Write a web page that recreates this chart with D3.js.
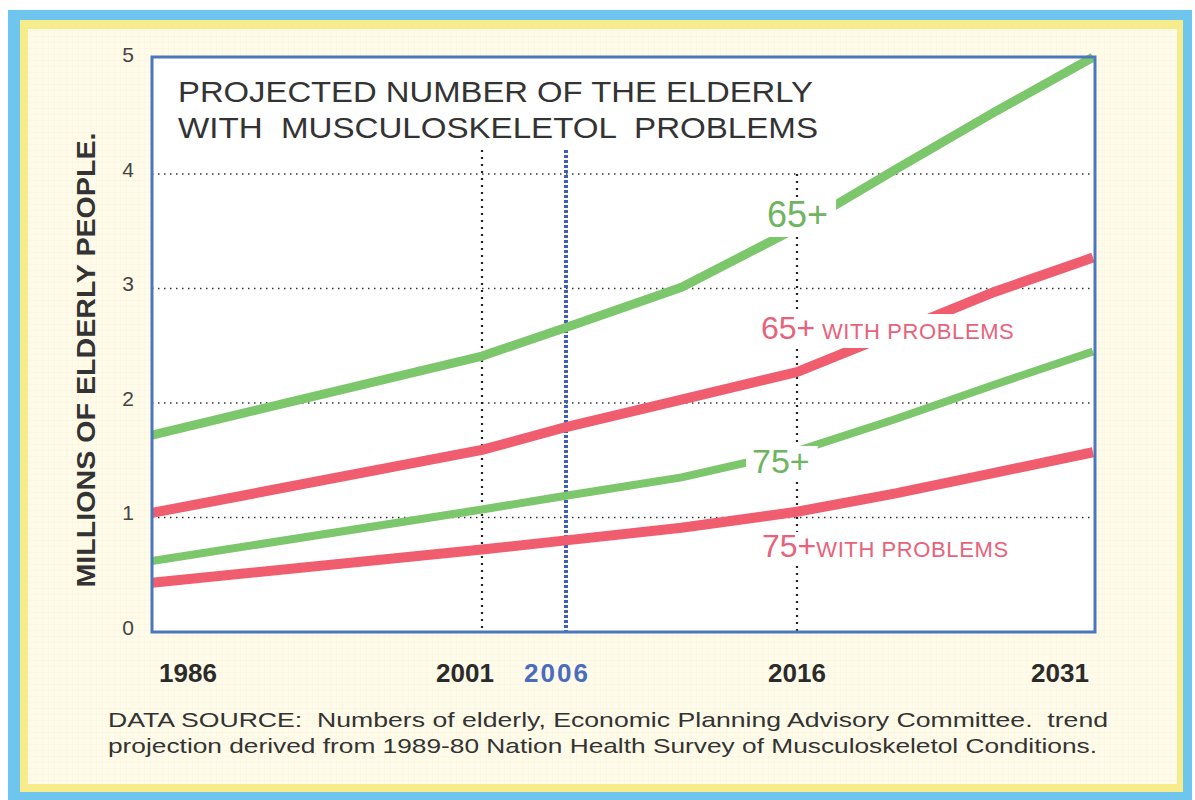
<!DOCTYPE html>
<html>
<head>
<meta charset="utf-8">
<script src="https://cdnjs.cloudflare.com/ajax/libs/d3/7.8.5/d3.min.js"></script>
<style>
  body { margin: 0; background: #fff; }
  text { font-family: "Liberation Sans", Arial, sans-serif; }
</style>
</head>
<body>
<svg id="svg" width="1195" height="800"></svg>
<script>
// data (millions)
var years = [1986, 2001, 2006, 2011, 2016, 2021, 2026, 2031];
var aged65 = [1.72, 2.41, 2.66, 3.01, 3.53, 4.04, 4.54, 5.02];
var aged65Problems = [1.04, 1.59, 1.79, 2.03, 2.27, 2.62, 2.97, 3.27];
var aged75 = [0.62, 1.07, 1.19, 1.35, 1.58, 1.86, 2.16, 2.45];
var aged75Problems = [0.43, 0.72, 0.80, 0.91, 1.05, 1.21, 1.39, 1.57];
var yTicks = [0, 1, 2, 3, 4, 5];
var yearLabels = [1986, 2001, 2006, 2016, 2031];

var svg = d3.select("svg");
var plotLeft = 152, plotRight = 1095, plotTop = 57, plotBottom = 632;

// hand drawn chart: year spacing is not even, so the scale is piecewise
var x = d3.scaleLinear()
    .domain([1986, 2001, 2006, 2016, 2031])
    .range([152, 482, 566, 797, 1093]);
var y = d3.scaleLinear().domain([0, 5]).range([plotBottom, 59.5]);

// frame bands
svg.append("rect").attr("x", 8).attr("y", 10).attr("width", 1184).attr("height", 790).attr("fill", "#6ec5ee");
svg.append("rect").attr("x", 20).attr("y", 20).attr("width", 1163).attr("height", 772).attr("fill", "#f6ec8c");
svg.append("rect").attr("x", 28).attr("y", 29).attr("width", 1149).attr("height", 755).attr("fill", "#fffbea");

var defs = svg.append("defs");
var pat = defs.append("pattern").attr("id", "paper").attr("width", 6).attr("height", 6)
    .attr("patternUnits", "userSpaceOnUse");
pat.append("path").attr("d", "M6 0 L0 0 0 6").attr("fill", "none")
    .attr("stroke", "#efe6c0").attr("stroke-width", 0.6);
svg.append("rect").attr("x", 28).attr("y", 29).attr("width", 1149).attr("height", 755).attr("fill", "url(#paper)").attr("opacity", 0.6);

// plot area
svg.append("rect").attr("x", plotLeft).attr("y", plotTop)
    .attr("width", plotRight - plotLeft).attr("height", plotBottom - plotTop)
    .attr("fill", "#fff");

// gridlines
svg.selectAll(".hgrid").data([1, 2, 3, 4]).enter().append("line")
    .attr("x1", plotLeft).attr("x2", plotRight)
    .attr("y1", function (d) { return y(d); }).attr("y2", function (d) { return y(d); })
    .attr("stroke", "#333").attr("stroke-width", 1.6).attr("stroke-dasharray", "1.5,4.5");

svg.append("line").attr("x1", x(2001)).attr("x2", x(2001)).attr("y1", 150).attr("y2", plotBottom)
    .attr("stroke", "#222").attr("stroke-width", 2.2).attr("stroke-dasharray", "2,5");
svg.append("line").attr("x1", x(2016)).attr("x2", x(2016)).attr("y1", y(4)).attr("y2", plotBottom)
    .attr("stroke", "#222").attr("stroke-width", 2.2).attr("stroke-dasharray", "2,5");
svg.append("line").attr("x1", x(2006)).attr("x2", x(2006)).attr("y1", 150).attr("y2", plotBottom)
    .attr("stroke", "#3f5fb4").attr("stroke-width", 4).attr("stroke-dasharray", "3,2");

// series
var line = d3.line()
    .x(function (d, i) { return x(years[i]); })
    .y(function (d) { return y(d); });

var series = [
    { values: aged65, color: "#7cc66c", width: 9 },
    { values: aged65Problems, color: "#ef5d6f", width: 10 },
    { values: aged75, color: "#7cc66c", width: 8 },
    { values: aged75Problems, color: "#ef5d6f", width: 10 }
];
svg.selectAll(".series").data(series).enter().append("path")
    .attr("d", function (d) { return line(d.values); })
    .attr("fill", "none")
    .attr("stroke", function (d) { return d.color; })
    .attr("stroke-width", function (d) { return d.width; });

// series labels, with white boxes that break the lines
function label(parts, lx, ly, color) {
    var g = svg.append("g");
    var bg = g.append("rect").attr("fill", "#fff");
    var t = g.append("text").attr("x", lx).attr("y", ly).attr("fill", color);
    parts.forEach(function (p) {
        t.append("tspan").attr("font-size", p.size).attr("letter-spacing", p.spacing || 0).text(p.text);
    });
    var b = t.node().getBBox();
    bg.attr("x", b.x - 6).attr("y", b.y + 4).attr("width", b.width + 14).attr("height", b.height - 2);
}
label([{ text: "65+", size: 36 }], 767, 227, "#6fb461");
label([{ text: "65+", size: 32 }, { text: " WITH PROBLEMS", size: 22, spacing: 0.6 }], 761, 339, "#e8627a");
label([{ text: "75+", size: 34 }], 752, 473, "#6fb461");
label([{ text: "75+", size: 32 }, { text: "WITH PROBLEMS", size: 22, spacing: 0.6 }], 762, 557, "#e8627a");

// plot frame
svg.append("rect").attr("x", plotLeft).attr("y", plotTop)
    .attr("width", plotRight - plotLeft).attr("height", plotBottom - plotTop)
    .attr("fill", "none").attr("stroke", "#4b78bd").attr("stroke-width", 3);

// title
svg.append("text").attr("x", 178).attr("y", 102).attr("font-size", 30).attr("fill", "#333")
    .attr("textLength", 635).attr("lengthAdjust", "spacingAndGlyphs")
    .text("PROJECTED NUMBER OF THE ELDERLY");
svg.append("text").attr("x", 178).attr("y", 138).attr("font-size", 30).attr("fill", "#333")
    .attr("xml:space", "preserve").attr("textLength", 640).attr("lengthAdjust", "spacingAndGlyphs")
    .text("WITH  MUSCULOSKELETOL  PROBLEMS");

// y axis
var yAxis = d3.axisLeft(y).tickValues(yTicks).tickSize(0).tickPadding(18).tickFormat(d3.format("d"));
var ya = svg.append("g").attr("transform", "translate(" + plotLeft + ",0)").call(yAxis);
ya.select(".domain").remove();
ya.selectAll("text").attr("font-size", 21).attr("fill", "#444")
    .attr("font-family", "Liberation Sans, Arial, sans-serif")
    .attr("text-anchor", "middle").attr("dx", -6).attr("dy", "0.1em");

svg.append("text")
    .attr("transform", "translate(95,360) rotate(-90)")
    .attr("text-anchor", "middle").attr("font-size", 25).attr("font-weight", "bold").attr("fill", "#333")
    .attr("textLength", 455).attr("lengthAdjust", "spacingAndGlyphs")
    .text("MILLIONS OF ELDERLY PEOPLE.");

// x labels
var xPos = { 1986: 188, 2001: 465, 2006: 557, 2016: 797, 2031: 1060 };
svg.selectAll(".year").data(yearLabels).enter().append("text")
    .attr("x", function (d) { return xPos[d]; })
    .attr("y", 682)
    .attr("text-anchor", "middle")
    .attr("font-size", 26).attr("font-weight", "bold")
    .attr("letter-spacing", function (d) { return d === 2006 ? 2 : 0; })
    .attr("fill", function (d) { return d === 2006 ? "#4a6cc0" : "#2b2b2b"; })
    .text(function (d) { return d; });

// source
svg.append("text").attr("x", 108).attr("y", 727).attr("font-size", 21).attr("fill", "#333")
    .attr("xml:space", "preserve").attr("textLength", 1000).attr("lengthAdjust", "spacingAndGlyphs")
    .text("DATA SOURCE:  Numbers of elderly, Economic Planning Advisory Committee.  trend");
svg.append("text").attr("x", 108).attr("y", 753).attr("font-size", 21).attr("fill", "#333")
    .attr("textLength", 989).attr("lengthAdjust", "spacingAndGlyphs")
    .text("projection derived from 1989-80 Nation Health Survey of Musculoskeletol Conditions.");
</script>
</body>
</html>
